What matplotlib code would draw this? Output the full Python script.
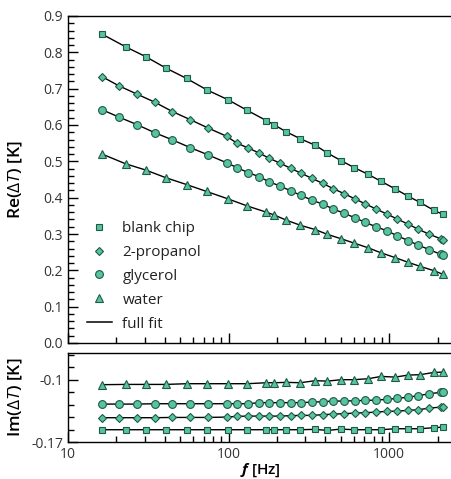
import matplotlib
matplotlib.use("Agg")
import matplotlib.pyplot as plt
import numpy as np
from matplotlib.ticker import FixedLocator, NullFormatter, LogLocator
from matplotlib.lines import Line2D

plt.rcParams['font.family'] = ['Open Sans', 'DejaVu Sans']
plt.rcParams['mathtext.fontset'] = 'custom'
plt.rcParams['mathtext.rm'] = 'Open Sans'
plt.rcParams['mathtext.it'] = 'Open Sans:italic'
plt.rcParams['mathtext.bf'] = 'Open Sans:bold:italic'

# frequencies [Hz]
f_sparse = [16.3, 22.9, 30.5, 40.6, 54.8, 73, 98.6, 131, 172, 193, 229, 280, 347,
            412, 501, 604, 740, 891, 1089, 1312, 1555, 1900, 2160]
f_dense = [16.3, 20.7, 26.9, 34.6, 44.7, 57.5, 74.3, 97.2, 112.6, 132, 154.6, 178,
           209, 243, 283, 331, 387, 447, 524, 609, 709, 826, 966, 1124, 1312, 1521,
           1780, 2090, 2165]

# real part [K]
re_blank = [0.850, 0.815, 0.788, 0.757, 0.728, 0.697, 0.670, 0.640, 0.612, 0.600,
            0.581, 0.562, 0.544, 0.523, 0.502, 0.483, 0.464, 0.445, 0.424, 0.404,
            0.387, 0.365, 0.354]
re_prop = [0.733, 0.708, 0.685, 0.663, 0.637, 0.615, 0.592, 0.569, 0.550, 0.537,
           0.523, 0.509, 0.495, 0.481, 0.467, 0.453, 0.439, 0.425, 0.411, 0.397,
           0.383, 0.369, 0.355, 0.341, 0.327, 0.313, 0.299, 0.287, 0.283]
re_glyc = [0.642, 0.622, 0.601, 0.579, 0.559, 0.538, 0.518, 0.496, 0.483, 0.469,
           0.458, 0.444, 0.432, 0.419, 0.406, 0.393, 0.382, 0.369, 0.357, 0.345,
           0.332, 0.320, 0.309, 0.295, 0.282, 0.269, 0.257, 0.244, 0.241]
re_water = [0.520, 0.493, 0.476, 0.455, 0.436, 0.417, 0.397, 0.377, 0.360, 0.352,
            0.338, 0.324, 0.312, 0.299, 0.287, 0.275, 0.262, 0.248, 0.235, 0.222,
            0.211, 0.199, 0.189]

# imaginary part [K]
im_blank = [-0.1562, -0.1562, -0.1562, -0.1562, -0.1562, -0.1562, -0.1562, -0.1562,
            -0.1562, -0.1562, -0.1562, -0.1562, -0.1558, -0.1570, -0.1555, -0.1562,
            -0.1562, -0.1562, -0.1551, -0.1551, -0.1551, -0.1539, -0.1533]
im_prop = [-0.1427, -0.1427, -0.1427, -0.1427, -0.1424, -0.1424, -0.1424, -0.1420,
           -0.1412, -0.1409, -0.1409, -0.1409, -0.1409, -0.1404, -0.1401, -0.1401,
           -0.1393, -0.1387, -0.1382, -0.1375, -0.1371, -0.1364, -0.1356, -0.1353,
           -0.1345, -0.1337, -0.1319, -0.1308, -0.1308]
im_glyc = [-0.1274, -0.1274, -0.1274, -0.1270, -0.1270, -0.1270, -0.1270, -0.1270,
           -0.1270, -0.1270, -0.1258, -0.1258, -0.1258, -0.1258, -0.1258, -0.1252,
           -0.1247, -0.1240, -0.1240, -0.1236, -0.1233, -0.1229, -0.1221, -0.1210,
           -0.1196, -0.1180, -0.1157, -0.1143, -0.1143]
im_water = [-0.1056, -0.1053, -0.1053, -0.1053, -0.1045, -0.1045, -0.1045, -0.1045,
            -0.1034, -0.1034, -0.1030, -0.1034, -0.1011, -0.1016, -0.1000, -0.1000,
            -0.0989, -0.0963, -0.0971, -0.0948, -0.0944, -0.0918, -0.0915]

labels = ["blank chip", "2-propanol", "glycerol", "water"]

fc = '#58c49e'
ec = '#1f5a46'
tickcol = '#333333'

fig = plt.figure(figsize=(4.52, 4.79), dpi=100)
ax1 = fig.add_axes([68/452, 136/479, 384/452, 327/479])
ax2 = fig.add_axes([68/452, 37/479, 384/452, 89/479])

series_re = [(f_sparse, re_blank, 's', 5.0), (f_dense, re_prop, 'D', 4.2),
             (f_dense, re_glyc, 'o', 5.6), (f_sparse, re_water, '^', 5.8)]
series_im = [(f_sparse, im_blank, 's', 5.0), (f_dense, im_prop, 'D', 4.2),
             (f_dense, im_glyc, 'o', 5.6), (f_sparse, im_water, '^', 5.8)]

for ax, ser in ((ax1, series_re), (ax2, series_im)):
    for x, y, m, ms in ser:
        ax.plot(x, y, '-', color='black', lw=1.0, zorder=2)
        ax.plot(x, y, m, ms=ms, mfc=fc, mec=ec, mew=0.8, ls='none', zorder=3)
    ax.set_xscale('log')
    ax.set_xlim(10, 2460)
    ax.spines['right'].set_visible(False)
    for s in ('top', 'bottom', 'left'):
        ax.spines[s].set_linewidth(1.0)
    ax.xaxis.set_major_locator(FixedLocator([10, 100, 1000]))
    ax.xaxis.set_minor_locator(LogLocator(base=10, subs=np.arange(2, 10)))
    ax.xaxis.set_minor_formatter(NullFormatter())
    ax.tick_params(which='both', direction='in', top=False, right=False,
                   colors='black', labelcolor=tickcol, labelsize=10, width=1.0)
    ax.tick_params(which='major', length=7)
    ax.tick_params(which='minor', length=4.5)

ax1.set_ylim(0, 0.9)
ax1.yaxis.set_major_locator(FixedLocator(np.round(np.arange(0, 0.91, 0.1), 2)))
ax1.yaxis.set_minor_locator(FixedLocator(np.round(np.arange(0, 0.901, 0.02), 3)))
ax1.yaxis.set_major_formatter(matplotlib.ticker.FormatStrFormatter('%.1f'))
ax1.tick_params(axis='x', labelbottom=False)

ax2.set_ylim(-0.17, -0.07)
ax2.yaxis.set_major_locator(FixedLocator([-0.17, -0.1]))
ax2.yaxis.set_minor_locator(FixedLocator([-0.156, -0.142, -0.128, -0.114, -0.086, -0.072]))
ax2.set_yticklabels(['-0.17', '-0.1'])
ax2.set_xticklabels(['10', '100', '1000'])
ax2.tick_params(axis='x', pad=3.5)

ax1.set_ylabel(r'Re($\mathit{ΔT}$) [K]', fontsize=12.5, fontweight='semibold')
ax2.set_ylabel(r'Im($\mathit{ΔT}$) [K]', fontsize=12.5, fontweight='semibold')
ax1.yaxis.set_label_coords(-0.113, 0.5)
ax2.yaxis.set_label_coords(-0.113, 0.5)
ax2.set_xlabel(r'$\mathbf{f}$ [Hz]', fontsize=11, fontweight='semibold', labelpad=0)

handles = [Line2D([], [], ls='none', marker=m, ms=ms, mfc=fc, mec=ec, mew=0.8)
           for _, _, m, ms in series_re]
handles.append(Line2D([], [], color='black', lw=1.1))
leg = ax1.legend(handles, labels + ["full fit"], loc='lower left',
                 bbox_to_anchor=(0.05, 0.035), frameon=False, fontsize=11,
                 borderpad=0, borderaxespad=0, handlelength=1.6,
                 handletextpad=0.7, labelspacing=0.58)
for t in leg.get_texts():
    t.set_color('#222222')

fig.savefig('out.png', dpi=100)
